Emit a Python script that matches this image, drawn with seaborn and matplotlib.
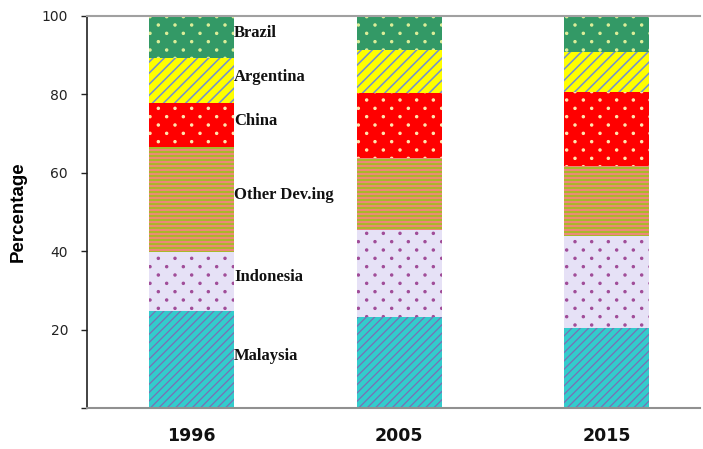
import matplotlib
matplotlib.use("Agg")
import matplotlib.pyplot as plt
import matplotlib.hatch as mhatch
from matplotlib.path import Path
import seaborn as sns
import numpy as np
import pandas as pd

# Shares (%) by year, stacked bottom to top
years = ["1996", "2005", "2015"]
series = ["Malaysia", "Indonesia", "Other Dev.ing", "China", "Argentina", "Brazil"]
malaysia = [24.7, 23.2, 20.4]
indonesia = [15.2, 22.2, 23.5]
other_deving = [26.8, 18.4, 17.8]
china = [11.2, 16.6, 18.9]
argentina = [11.3, 10.9, 10.2]
brazil = [10.8, 8.7, 9.2]
yticks = [20, 40, 60, 80, 100]

values = [malaysia, indonesia, other_deving, china, argentina, brazil]


class StaggeredDots(mhatch.HatchPatternBase):
    """'.' hatch: small filled dots, wide spacing in a row, half-offset rows."""

    size = 0.011

    def __init__(self, hatch, density):
        n = hatch.count('.')
        self.ncols = n * 6
        self.nrows = n * 12
        circle = Path.unit_circle()
        self.shape_vertices = circle.vertices
        self.shape_codes = circle.codes
        self.points = []
        if n == 0:
            self.num_vertices = 0
            return
        for r in range(self.nrows + 1):
            y = r / self.nrows
            if r % 2 == 0:
                xs = np.linspace(0, 1, self.ncols + 1)
            else:
                xs = np.linspace(0.5 / self.ncols, 1 - 0.5 / self.ncols, self.ncols)
            self.points.extend((x, y) for x in xs)
        self.num_vertices = len(self.points) * len(self.shape_vertices)

    def set_vertices_and_codes(self, vertices, codes):
        sv = self.shape_vertices * self.size
        np.concatenate([sv + p for p in self.points], out=vertices)
        np.concatenate([self.shape_codes for _ in self.points], out=codes)


class FineStripes(mhatch.HatchPatternBase):
    """'-' hatch: thin horizontal stripes, five per dash and per sixth of an inch."""

    def __init__(self, hatch, density):
        self.num_lines = hatch.count('-') * 5
        self.num_vertices = self.num_lines * 2

    def set_vertices_and_codes(self, vertices, codes):
        steps, step = np.linspace(0.0, 1.0, self.num_lines, False, retstep=True)
        steps += step / 2.0
        vertices[0::2, 0] = 0.0
        vertices[0::2, 1] = steps
        vertices[1::2, 0] = 1.0
        vertices[1::2, 1] = steps
        codes[0::2] = Path.MOVETO
        codes[1::2] = Path.LINETO


swap = {mhatch.SmallFilledCircles: StaggeredDots, mhatch.HorizontalHatch: FineStripes}
mhatch._hatch_types = [swap.get(t, t) for t in mhatch._hatch_types]

# face colour, hatch colour, hatch pattern, hatch line width for each series
styles = {
    "Malaysia": ("#33CCCC", "#7A70B4", "////", 0.9),
    "Indonesia": ("#E6E1F6", "#A04C98", ".", 0.9),
    "Other Dev.ing": ("#AAB82A", "#EC8878", "-----", 1.44),
    "China": ("#FF0000", "#FFE6B0", ".", 0.9),
    "Argentina": ("#FFFF00", "#7290D0", "///", 1.1),
    "Brazil": ("#339966", "#DDEE99", ".", 0.9),
}

sns.set_theme(style="white")
plt.rcParams["hatch.linewidth"] = 1.0

fig = plt.figure(figsize=(7.03, 4.49), dpi=100)
ax = fig.add_axes([0.1238, 0.0913, 0.872, 0.8731])

bottom = np.zeros(len(years))
for name, vals in zip(series, values):
    face, hcol, hatch, hlw = styles[name]
    df = pd.DataFrame({"year": years, "share": vals})
    n_before = len(ax.patches)
    sns.barplot(data=df, x="year", y="share", ax=ax, bottom=bottom,
                color=face, saturation=1, width=0.41, hatch=hatch,
                edgecolor=hcol, linewidth=0, errorbar=None)
    for p in ax.patches[n_before:]:
        if hasattr(p, "set_hatch_linewidth"):
            p.set_hatch_linewidth(hlw)
    bottom = bottom + np.array(vals)

# series names beside the first column, at the middle of each segment
base = 0.0
for name, vals in zip(series, values):
    mid = base + vals[0] / 2 + 1.0
    ax.text(0.205, mid, name, ha="left", va="center",
            fontsize=12, fontweight="bold", family="Liberation Serif",
            color="#111111")
    base += vals[0]

ax.set_xlim(-0.504, 2.45)
ax.set_ylim(0, 100)
ax.set_yticks([0] + yticks)
ax.set_yticklabels([""] + [str(t) for t in yticks])
ax.tick_params(axis="y", direction="out", length=4.3, width=1, color="#222222",
               labelsize=10, labelcolor="#222222", pad=9.4, left=True)
ax.tick_params(axis="x", length=0, pad=14)
for lbl in ax.get_xticklabels():
    lbl.set_fontweight("bold")
    lbl.set_fontsize(12.5)
    lbl.set_color("#111111")

ax.set_xlabel("")
ax.set_ylabel("Percentage", fontsize=13.5, fontweight="bold",
              family="Liberation Sans", color="black", labelpad=11)

ax.spines["right"].set_visible(False)
ax.spines["left"].set_color("#222222")
ax.spines["left"].set_linewidth(1.2)
ax.spines["top"].set_color("#A0A0A0")
ax.spines["top"].set_linewidth(1.5)
ax.spines["bottom"].set_color("#909090")
ax.spines["bottom"].set_linewidth(1.5)
ax.grid(False)

fig.savefig("out.png", dpi=100)
